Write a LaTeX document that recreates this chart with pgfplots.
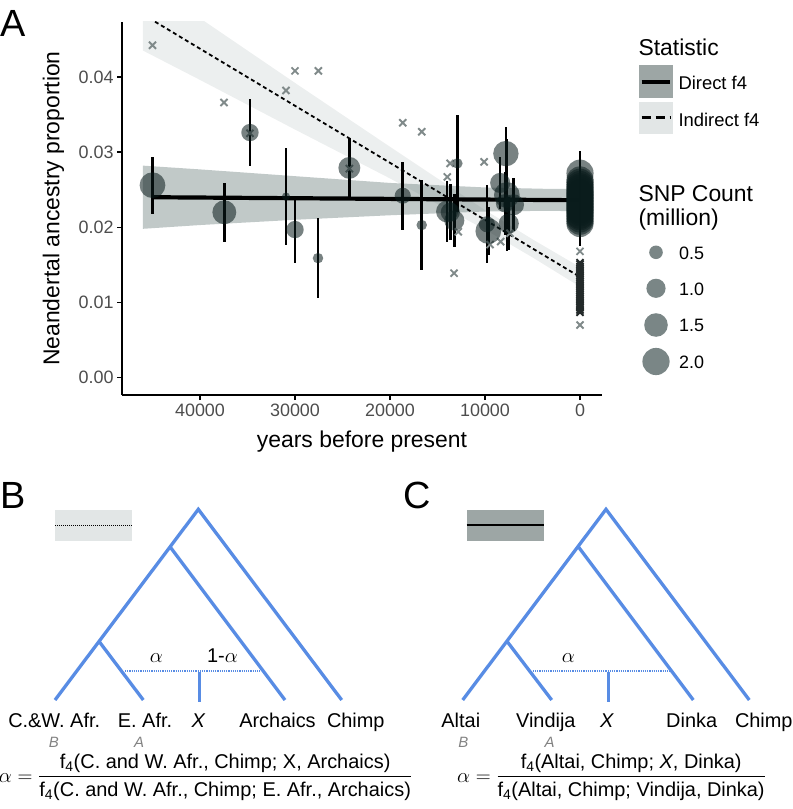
\documentclass[border=0pt]{standalone}
\usepackage{amsmath}
\usepackage{fontspec}
\setmainfont{Liberation Sans}
\usepackage{pgfplots}
\usepackage{pgfplotstable}
\pgfplotsset{compat=1.18}
\definecolor{tickgray}{RGB}{77,77,77}
\definecolor{ptfill}{RGB}{10,28,28}
\definecolor{legfill}{RGB}{122,134,134}
\definecolor{xgray}{RGB}{128,138,138}
\definecolor{xdark}{RGB}{35,42,42}
\definecolor{bandDbase}{RGB}{100,120,118}
\definecolor{bandIbase}{RGB}{150,165,165}
\definecolor{keyD}{RGB}{157,166,165}
\definecolor{keyI}{RGB}{226,230,230}
\definecolor{treeblue}{RGB}{88,140,228}
\definecolor{subgray}{RGB}{130,130,130}

% direct f4 estimates: years (negative = before present), proportion, error, SNP count (million)
\pgfplotstableread{
x y e s
-45000 0.0256 0.0038 1.8
-37440 0.0220 0.0039 1.55
-34740 0.0326 0.0044 0.82
-30950 0.0241 0.0064 0.18
-30000 0.0197 0.0044 0.82
-27580 0.0159 0.0053 0.30
-24280 0.0279 0.0040 1.30
-18660 0.0242 0.0045 0.70
-16660 0.0203 0.0060 0.30
-14000 0.0221 0.0040 1.30
-13650 0.0220 0.0037 1.00
-13230 0.0209 0.0035 1.10
-12910 0.0285 0.0064 0.30
-9800 0.0204 0.0052 0.70
-9650 0.0195 0.0032 1.80
-8400 0.0259 0.0035 1.10
-7800 0.0298 0.0036 1.75
-7700 0.0243 0.0075 1.80
-7900 0.0232 0.0042 0.90
-7000 0.0230 0.0035 1.20
-7500 0.0205 0.0035 1.10
0 0.0272 0.0030 2.0
0 0.0263 0.0030 2.0
0 0.0260 0.0030 2.0
0 0.0257 0.0030 2.0
0 0.0254 0.0030 2.0
0 0.0252 0.0030 2.0
0 0.0249 0.0030 2.0
0 0.0247 0.0030 2.0
0 0.0245 0.0030 2.0
0 0.0243 0.0030 2.0
0 0.0241 0.0030 2.0
0 0.0239 0.0030 2.0
0 0.0237 0.0030 2.0
0 0.0235 0.0030 2.0
0 0.0233 0.0030 2.0
0 0.0231 0.0030 2.0
0 0.0229 0.0030 2.0
0 0.0227 0.0030 2.0
0 0.0225 0.0030 2.0
0 0.0223 0.0030 2.0
0 0.0221 0.0030 2.0
0 0.0219 0.0030 2.0
0 0.0216 0.0030 2.0
0 0.0214 0.0030 2.0
0 0.0211 0.0030 2.0
0 0.0208 0.0030 2.0
0 0.0205 0.0030 2.0
}\direct

% indirect f4 estimates (isolated)
\pgfplotstableread{
x y
-45000 0.0442
-37470 0.0366
-34740 0.0325
-30950 0.0382
-30000 0.0408
-27540 0.0408
-24280 0.0278
-18660 0.0339
-16660 0.0327
-13680 0.0285
-13970 0.0267
-13260 0.0139
-12810 0.0194
-10100 0.0287
-9470 0.0177
-8350 0.0181
-7370 0.0192
0 0.0168
0 0.0070
}\indirect

% indirect f4 estimates, present-day (dense cluster)
\pgfplotstableread{
x y
0 0.0153
0 0.0151
0 0.0148
0 0.0146
0 0.0143
0 0.0141
0 0.0138
0 0.0136
0 0.0133
0 0.0131
0 0.0128
0 0.0126
0 0.0123
0 0.0121
0 0.0118
0 0.0116
0 0.0113
0 0.0111
0 0.0108
0 0.0106
0 0.0103
0 0.0101
0 0.0098
0 0.0096
0 0.0093
0 0.0090
0 0.0087
}\indirectzero

\begin{document}
\begin{tikzpicture}
\useasboundingbox (0,0) rectangle (793bp,-809bp);
\begin{axis}[
  at={(122bp,-395bp)}, anchor=south west,
  width=480bp, height=373bp, scale only axis,
  xmin=-48210, xmax=2316, ymin=-0.0023, ymax=0.0473,
  axis x line*=bottom, axis y line*=left,
  axis line style={black, line width=1.8bp},
  tick pos=left,
  xtick={-40000,-30000,-20000,-10000,0},
  xticklabels={40000,30000,20000,10000,0},
  ytick={0,0.01,0.02,0.03,0.04},
  yticklabels={0.00,0.01,0.02,0.03,0.04},
  scaled ticks=false,
  tick align=outside, major tick length=5bp,
  tick style={black, line width=1.5bp},
  ticklabel style={font=\fontsize{18}{18}\selectfont, text=tickgray},
]
% confidence ribbons
\addplot[draw=none, fill=bandIbase, fill opacity=0.18, forget plot] coordinates {
(-46000,0.0531) (-40000,0.0478) (-30000,0.0392) (-20000,0.0307) (-10000,0.0223) (-5000,0.0184) (0,0.0147)
(0,0.0121) (-5000,0.0160) (-10000,0.0197) (-20000,0.0265) (-30000,0.0330) (-40000,0.0396) (-46000,0.0435)} -- cycle;
\addplot[draw=none, fill=bandDbase, fill opacity=0.4, forget plot] coordinates {
(-46000,0.0282) (-40000,0.0277) (-30000,0.0268) (-20000,0.0259) (-10000,0.0253) (-3000,0.0251) (0,0.0251)
(0,0.0221) (-3000,0.0222) (-10000,0.0221) (-20000,0.0216) (-30000,0.0210) (-40000,0.0203) (-46000,0.0198)} -- cycle;
% regression lines
\addplot[black, line width=4.2bp, forget plot] coordinates {(-45000,0.0240) (0,0.0236)};
\addplot[black, line width=1.8bp, dash pattern=on 4bp off 3bp, forget plot] coordinates {(-46000,0.0483) (0,0.0134)};
% indirect points
\addplot[only marks, mark=x, mark size=5bp, mark options={draw=xgray, line width=1.9bp}, forget plot]
  table[x=x, y=y] {\indirect};
\addplot[only marks, mark=x, mark size=5bp, mark options={draw=xdark, line width=1.9bp}, forget plot]
  table[x=x, y=y] {\indirectzero};
% direct points
\addplot[scatter, only marks, mark=*,
  mark options={draw=none, draw opacity=0},
  scatter/use mapped color={draw=none, draw opacity=0, fill=ptfill, fill opacity=0.55},
  visualization depends on={9.6*sqrt(\thisrow{s}) \as \rad},
  scatter/@pre marker code/.append style={/tikz/mark size=\rad bp}, forget plot]
  table[x=x, y=y, meta=s] {\direct};
\addplot[draw=none, mark=none, forget plot,
  error bars/.cd, y dir=both, y explicit, error mark=none,
  error bar style={draw=black, line width=2.5bp}]
  table[x=x, y=y, y error=e] {\direct};
\end{axis}

\begin{scope}[x=1bp, y=-1bp]
% axis titles and panel letters
\node[anchor=base, rotate=90, inner sep=0] at (59.3,208.5) {\fontsize{23}{23}\selectfont Neandertal ancestry proportion};
\node[anchor=base, inner sep=0] at (362,447) {\fontsize{23}{23}\selectfont years before present};
\node[anchor=base west, inner sep=0] at (0,36) {\fontsize{38}{38}\selectfont A};
\node[anchor=base west, inner sep=0] at (0,508.3) {\fontsize{38}{38}\selectfont B};
\node[anchor=base west, inner sep=0] at (403,508.3) {\fontsize{38}{38}\selectfont C};

% legend: Statistic
\node[anchor=base west, inner sep=0] at (638.3,55) {\fontsize{23}{23}\selectfont Statistic};
\fill[keyD] (639.3,65) rectangle (672.7,98.3);
\draw[black, line width=4bp] (641.7,81.7) -- (670,81.7);
\fill[keyI] (639.3,101.7) rectangle (672.7,134.3);
\draw[black, line width=3bp, dash pattern=on 9bp off 5bp] (641.7,117.7) -- (670,117.7);
\node[anchor=base west, inner sep=0] at (678.3,89.3) {\fontsize{18.5}{18.5}\selectfont Direct f4};
\node[anchor=base west, inner sep=0] at (678.3,126) {\fontsize{18.5}{18.5}\selectfont Indirect f4};

% legend: SNP count
\node[anchor=base west, inner sep=0] at (638.3,201.7) {\fontsize{23}{23}\selectfont SNP Count};
\node[anchor=base west, inner sep=0] at (638.3,225) {\fontsize{23}{23}\selectfont (million)};
\fill[legfill] (656,252.3) circle (6.8bp);
\fill[legfill] (656,288.3) circle (9.6bp);
\fill[legfill] (656,325) circle (11.8bp);
\fill[legfill] (656,361.5) circle (13.6bp);
\node[anchor=base west, inner sep=0] at (679,259.3) {\fontsize{18}{18}\selectfont 0.5};
\node[anchor=base west, inner sep=0] at (679,295) {\fontsize{18}{18}\selectfont 1.0};
\node[anchor=base west, inner sep=0] at (679,331.7) {\fontsize{18}{18}\selectfont 1.5};
\node[anchor=base west, inner sep=0] at (679,368.3) {\fontsize{18}{18}\selectfont 2.0};

% ---- Panel B ----
\fill[keyI] (55,510) rectangle (131.7,540.7);
\draw[black, line width=1bp, dash pattern=on 1bp off 1bp] (55,525) -- (131.7,525);
\draw[treeblue, line width=3.3bp] (55,700) -- (198.3,509.3) -- (341.7,700);
\draw[treeblue, line width=3.3bp] (170,546.7) -- (285,700);
\draw[treeblue, line width=3.3bp] (99.3,641.7) -- (143.3,700);
\draw[treeblue, line width=3.3bp] (199.3,671.7) -- (199.3,701.7);
\draw[treeblue, line width=1.2bp, dash pattern=on 1.2bp off 1bp] (125,671) -- (260,671);
\node[anchor=base, inner sep=0] at (156.3,662.7) {\fontsize{20}{20}\selectfont $\alpha$};
\node[anchor=base, inner sep=0] at (222.5,662.7) {\fontsize{20}{20}\selectfont 1-$\alpha$};
\node[anchor=base, inner sep=0] at (54.2,727.3) {\fontsize{20}{20}\selectfont C.\&W. Afr.};
\node[anchor=base, inner sep=0] at (145,727.3) {\fontsize{20}{20}\selectfont E. Afr.};
\node[anchor=base, inner sep=0] at (198.3,727.3) {\fontsize{20}{20}\selectfont\itshape X};
\node[anchor=base, inner sep=0] at (277.5,727.3) {\fontsize{20}{20}\selectfont Archaics};
\node[anchor=base, inner sep=0] at (355.8,727.3) {\fontsize{20}{20}\selectfont Chimp};
\node[anchor=base, inner sep=0, text=subgray] at (53.8,747.7) {\fontsize{15}{15}\selectfont\itshape B};
\node[anchor=base, inner sep=0, text=subgray] at (139.2,747.7) {\fontsize{15}{15}\selectfont\itshape A};
\node[anchor=center, inner sep=0] at (205.5,777) {\fontsize{20}{24}\selectfont
  $\alpha = \dfrac{\text{f\textsubscript{4}(C. and W. Afr., Chimp; X, Archaics)}}{\text{f\textsubscript{4}(C. and W. Afr., Chimp; E. Afr., Archaics)}}$};

% ---- Panel C ----
\fill[keyD] (466.7,510) rectangle (544,540.7);
\draw[black, line width=2.7bp] (466.7,525) -- (544,525);
\draw[treeblue, line width=3.3bp] (462.7,700) -- (606,509.3) -- (749.3,700);
\draw[treeblue, line width=3.3bp] (578.3,546.7) -- (693.3,700);
\draw[treeblue, line width=3.3bp] (507.3,641.7) -- (551.7,700);
\draw[treeblue, line width=3.3bp] (608.3,671.7) -- (608.3,701.7);
\draw[treeblue, line width=1.2bp, dash pattern=on 1.2bp off 1bp] (532.7,671) -- (669.3,671);
\node[anchor=base, inner sep=0] at (568.3,662.7) {\fontsize{20}{20}\selectfont $\alpha$};
\node[anchor=base, inner sep=0] at (460.8,727.3) {\fontsize{20}{20}\selectfont Altai};
\node[anchor=base, inner sep=0] at (545.8,727.3) {\fontsize{20}{20}\selectfont Vindija};
\node[anchor=base, inner sep=0] at (606.7,727.3) {\fontsize{20}{20}\selectfont\itshape X};
\node[anchor=base, inner sep=0] at (691.7,727.3) {\fontsize{20}{20}\selectfont Dinka};
\node[anchor=base, inner sep=0] at (763.8,727.3) {\fontsize{20}{20}\selectfont Chimp};
\node[anchor=base, inner sep=0, text=subgray] at (463.3,747.7) {\fontsize{15}{15}\selectfont\itshape B};
\node[anchor=base, inner sep=0, text=subgray] at (549.5,747.7) {\fontsize{15}{15}\selectfont\itshape A};
\node[anchor=center, inner sep=0] at (611.5,777) {\fontsize{20}{24}\selectfont
  $\alpha = \dfrac{\text{f\textsubscript{4}(Altai, Chimp; \textit{X}, Dinka)}}{\text{f\textsubscript{4}(Altai, Chimp; Vindija, Dinka)}}$};
\end{scope}
\end{tikzpicture}
\end{document}
